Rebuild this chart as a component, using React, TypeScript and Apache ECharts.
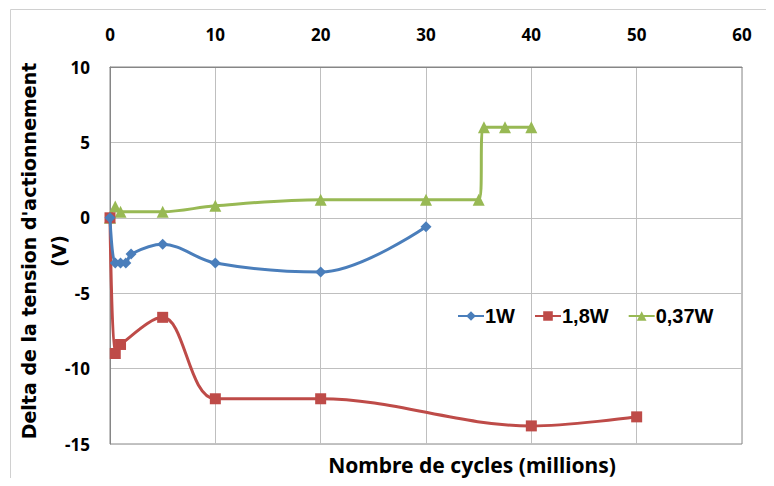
import React, { useEffect, useRef } from "react";
import * as echarts from "echarts";

const seriesNames = ["1W", "1,8W", "0,37W"];
const colors = ["#4A7EBB", "#BE4B48", "#98B954"];

const x1W = [0, 0.5, 1, 1.5, 2, 5, 10, 20, 30];
const y1W = [0, -3, -3, -3, -2.4, -1.75, -3, -3.6, -0.6];

const x18W = [0, 0.5, 1, 5, 10, 20, 40, 50];
const y18W = [0, -9, -8.4, -6.6, -12, -12, -13.8, -13.2];

const x037W = [0, 0.5, 1, 5, 10, 20, 30, 35, 35.5, 37.5, 40];
const y037W = [0, 0.75, 0.4, 0.4, 0.8, 1.2, 1.2, 1.2, 6, 6, 6];

const xTicks = { min: 0, max: 60, interval: 10 };
const yTicks = { min: -15, max: 10, interval: 5 };

const xTitle = "Nombre de cycles (millions)";
const yTitle1 = "Delta de la tension d'actionnement";
const yTitle2 = "(V)";

function pairs(xs: number[], ys: number[]) {
  return xs.map((x, i) => [x, ys[i]]);
}

export default function App() {
  const ref = useRef<HTMLDivElement>(null);
  useEffect(() => {
    if (!ref.current) return;
    const chart = echarts.init(ref.current, undefined, { renderer: "svg" });
    const symbols = ["diamond", "rect", "triangle"];
    const sizes = [11, 11, 12];
    const datas = [pairs(x1W, y1W), pairs(x18W, y18W), pairs(x037W, y037W)];
    chart.setOption({
      animation: false,
      backgroundColor: "#ffffff",
      grid: {
        left: 110,
        right: 32,
        top: 67,
        bottom: 42,
        show: true,
        borderColor: "#868686",
        borderWidth: 1,
      },
      legend: {
        data: seriesNames,
        left: 452,
        top: 301,
        itemWidth: 26,
        itemHeight: 12,
        itemGap: 19,
        textStyle: {
          fontFamily: "Liberation Sans",
          fontWeight: "bold",
          fontSize: 20,
          color: "#000",
          padding: [0, 0, 0, -4],
        },
      },
      xAxis: {
        type: "value",
        position: "top",
        min: xTicks.min,
        max: xTicks.max,
        interval: xTicks.interval,
        axisLine: { show: true, onZero: false, lineStyle: { color: "#868686" } },
        axisTick: { show: false },
        axisLabel: {
          margin: 24,
          fontFamily: "Noto Sans",
          fontWeight: "bold",
          fontSize: 17,
          color: "#000",
        },
        splitLine: { show: true, lineStyle: { color: "#BFBFBF" } },
      },
      yAxis: {
        type: "value",
        min: yTicks.min,
        max: yTicks.max,
        interval: yTicks.interval,
        axisLine: { show: true, lineStyle: { color: "#868686" } },
        axisTick: { show: false },
        axisLabel: {
          margin: 20,
          fontFamily: "Noto Sans",
          fontWeight: "bold",
          fontSize: 17,
          color: "#000",
        },
        splitLine: { show: true, lineStyle: { color: "#BFBFBF" } },
      },
      graphic: [
        {
          type: "rect",
          shape: { x: 10.5, y: 9.5, width: 800, height: 500 },
          style: { fill: "none", stroke: "#D0D0D0", lineWidth: 1 },
          silent: true,
          z: -10,
        },
        {
          type: "text",
          x: 472,
          y: 465,
          style: {
            text: xTitle,
            fontFamily: "Noto Sans",
            fontWeight: "bold",
            fontSize: 21,
            fill: "#000",
            align: "center",
            verticalAlign: "middle",
          },
        },
        {
          type: "text",
          x: 29,
          y: 251,
          rotation: Math.PI / 2,
          style: {
            text: yTitle1,
            fontFamily: "DejaVu Sans",
            fontWeight: "bold",
            fontSize: 19,
            fill: "#000",
            align: "center",
            verticalAlign: "middle",
          },
        },
        {
          type: "text",
          x: 59,
          y: 251,
          rotation: Math.PI / 2,
          style: {
            text: yTitle2,
            fontFamily: "DejaVu Sans",
            fontWeight: "bold",
            fontSize: 19,
            fill: "#000",
            align: "center",
            verticalAlign: "middle",
          },
        },
      ],
      series: seriesNames.map((name, i) => ({
        name,
        type: "line",
        data: datas[i],
        smooth: 0.35,
        symbol: symbols[i],
        symbolSize: sizes[i],
        showAllSymbol: true,
        lineStyle: { width: 3, color: colors[i] },
        itemStyle: { color: colors[i] },
        z: 3 - i,
      })),
    });
    return () => chart.dispose();
  }, []);
  return <div ref={ref} style={{ width: 774, height: 486, margin: -8 }} />;
}
